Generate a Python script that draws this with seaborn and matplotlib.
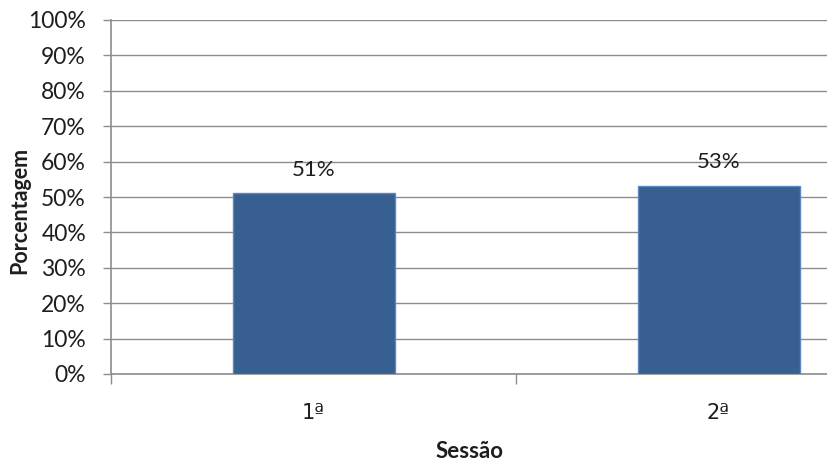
import matplotlib
matplotlib.use("Agg")
import matplotlib.pyplot as plt
import seaborn as sns
import pandas as pd
import numpy as np
from matplotlib.ticker import FixedLocator, PercentFormatter

sessoes = ["1ª", "2ª"]
porcentagens = [51, 53]
rotulos = ["51%", "53%"]
y_ticks = list(range(0, 101, 10))

sns.set_theme(style="white")
plt.rcParams["font.family"] = ["Lato", "DejaVu Sans"]

df = pd.DataFrame({"Sessão": sessoes, "Porcentagem": porcentagens})

fig = plt.figure(figsize=(8.27, 4.66), dpi=100)
# plot area runs past the right edge of the canvas
ax = fig.add_axes([111 / 827, 92 / 466, 810 / 827, 354 / 466])

grid_gray = "#8c8c8c"
text_color = "#1e1e1e"
sns.barplot(data=df, x="Sessão", y="Porcentagem", ax=ax, color="#375F8F",
            width=0.4, edgecolor="#5B88C4", linewidth=1.0, saturation=1, zorder=3)

ax.set_xlim(-0.5, 1.5)
ax.set_ylim(0, 100)
ax.yaxis.set_major_locator(FixedLocator(y_ticks))
ax.yaxis.set_major_formatter(PercentFormatter(decimals=0))
ax.grid(axis="y", color=grid_gray, linewidth=1.0, zorder=0)
ax.set_axisbelow(True)

for s in ["top", "right"]:
    ax.spines[s].set_visible(False)
for s in ["left", "bottom"]:
    ax.spines[s].set_color(grid_gray)
    ax.spines[s].set_linewidth(1.2)

ax.tick_params(axis="y", which="major", direction="out", length=6, width=1,
               color=grid_gray, labelsize=16.5, labelcolor=text_color, pad=12, left=True)
ax.xaxis.set_minor_locator(FixedLocator([-0.5, 0.5, 1.5]))
ax.tick_params(axis="x", which="major", length=0, labelsize=15,
               labelcolor=text_color, pad=21)
ax.tick_params(axis="x", which="minor", direction="out", length=7, width=1,
               color=grid_gray, bottom=True)
for lbl in ax.get_xticklabels():
    lbl.set_family(["DejaVu Sans"])

for cont in ax.containers:
    ax.bar_label(cont, labels=rotulos, padding=10, fontsize=16, color=text_color)

ax.set_xlabel("")
ax.set_ylabel("")
fig.text(20 / 827, 1 - 210 / 466, "Porcentagem", ha="center", va="center",
         rotation=90, fontsize=15.5, fontweight="bold", color=text_color)
fig.text(470 / 827, 1 - 452 / 466, "Sessão", ha="center", va="center",
         fontsize=16, fontweight="bold", color=text_color)

fig.savefig("out.png", dpi=100)
